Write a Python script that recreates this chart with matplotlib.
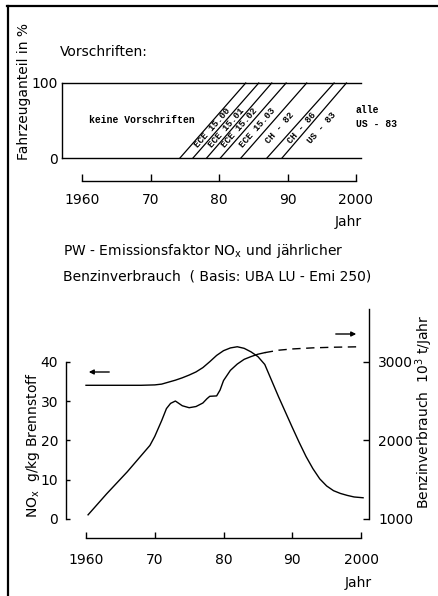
import math
import matplotlib
matplotlib.use("Agg")
import matplotlib.pyplot as plt
from matplotlib.lines import Line2D
from matplotlib.patches import FancyArrowPatch

plt.rcParams['font.family'] = 'DejaVu Sans'
plt.rcParams['mathtext.fontset'] = 'dejavusans'

W, H = 438, 596

# x axis ticks (both panels)
tick_years = [1960, 1970, 1980, 1990, 2000]
tick_labels = ["1960", "70", "80", "90", "2000"]

# top panel: regulations, year where share starts at 0 % and reaches 100 %
reg_names = ["ECE 15.00", "ECE 15.01", "ECE 15.02", "ECE 15.03", "CH - 82", "CH - 86", "US - 83"]
reg_start = [1974.3, 1976.2, 1978.2, 1980.2, 1983.2, 1987.0, 1989.2]
reg_end = [1983.9, 1985.8, 1987.7, 1989.8, 1992.8, 1996.8, 1998.6]

# bottom panel: NOx emission factor (g/kg Brennstoff)
nox_years = [1960, 1965, 1968, 1970, 1971, 1972, 1973, 1974, 1975, 1976, 1977, 1978, 1979, 1980,
             1981, 1982, 1983, 1984, 1985, 1986, 1987, 1988, 1989, 1990, 1991, 1992, 1993, 1994,
             1995, 1996, 1997, 1998, 1999, 2000.3]
nox_vals = [34.0, 34.0, 34.0, 34.1, 34.3, 34.8, 35.3, 35.9, 36.6, 37.4, 38.5, 40.0, 41.6, 42.8,
            43.5, 43.8, 43.4, 42.5, 41.3, 39.3, 35.2, 31.1, 27.2, 23.3, 19.5, 15.9, 12.8, 10.2,
            8.4, 7.2, 6.5, 6.0, 5.6, 5.4]

# bottom panel: Benzinverbrauch (10^3 t/Jahr), dashed from 1986 on
fuel_years = [1960.3, 1963, 1966, 1969.3, 1970, 1971, 1971.7, 1972.3, 1973, 1973.5, 1974, 1975,
              1976, 1977, 1977.6, 1978, 1979, 1979.5, 1980, 1981, 1982, 1983, 1984, 1985, 1986,
              1988, 1990, 1993, 1996, 2000]
fuel_vals = [1053, 1320, 1600, 1936, 2050, 2250, 2404, 2470, 2500, 2470, 2440, 2415,
             2430, 2475, 2530, 2560, 2565, 2640, 2760, 2890, 2970, 3030, 3065, 3095, 3115,
             3146, 3162, 3176, 3184, 3190]
fuel_forecast_from = 1986


def fx(x):
    return x / W


def fy(y):
    return 1 - y / H


def px2pt(p):
    return p * 72 / 100


fig = plt.figure(figsize=(W / 100, H / 100), dpi=100)

# frame (top + left edge of the scanned page)
fig.add_artist(Line2D([fx(7.5), fx(7.5)], [0, fy(6)], transform=fig.transFigure, color='k', lw=1.6))
fig.add_artist(Line2D([fx(7), 1], [fy(6), fy(6)], transform=fig.transFigure, color='k', lw=1.6))

# ---------- top panel ----------
ax1 = fig.add_axes([fx(62), fy(158), fx(361) - fx(62), fy(83) - fy(158)])
ax1.set_xlim(1957.08, 2000.73)
ax1.set_ylim(0, 100)
ax1.patch.set_visible(False)
for s in ['top', 'right']:
    ax1.spines[s].set_visible(False)
ax1.spines['left'].set_linewidth(1.0)
ax1.spines['bottom'].set_position(('outward', px2pt(23)))
ax1.spines['bottom'].set_bounds(1960, 2000)
ax1.spines['bottom'].set_linewidth(1.0)
ax1.axhline(0, color='k', lw=1.0, clip_on=False)
ax1.axhline(100, color='k', lw=1.0, clip_on=False)
ax1.set_yticks([0, 100])
ax1.set_yticklabels(["0", "100"])
ax1.tick_params(axis='y', length=0, pad=3, labelsize=10)
ax1.set_xticks(tick_years)
ax1.set_xticklabels(tick_labels)
ax1.tick_params(axis='x', direction='in', length=5, width=1.0, pad=px2pt(12), labelsize=10)

for s0, s1 in zip(reg_start, reg_end):
    ax1.plot([s0, s1], [0, 100], color='k', lw=0.9, clip_on=False)

# screen angle of the diagonals
p0 = ax1.transData.transform((reg_start[0], 0))
p1 = ax1.transData.transform((reg_end[0], 100))
ang = math.degrees(math.atan2(p1[1] - p0[1], p1[0] - p0[0]))

lab_h = 0.40
for i, name in enumerate(reg_names):
    if i + 1 < len(reg_start):
        base = (reg_start[i] + reg_start[i + 1]) / 2
    else:
        base = reg_start[i] + 2.0
    span = reg_end[i] - reg_start[i]
    ax1.text(base + lab_h * span, lab_h * 100, name, rotation=ang, rotation_mode='anchor',
             ha='center', va='center', family='Liberation Mono', weight='bold', fontsize=6.6)

mono = dict(family='Liberation Mono', weight='bold', fontsize=7)
fig.text(fx(142), fy(120), "keine Vorschriften", ha='center', va='center', **mono)
fig.text(fx(356), fy(110), "alle", ha='left', va='center', **mono)
fig.text(fx(356), fy(124), "US - 83", ha='left', va='center', **mono)

fig.text(fx(60), fy(52), "Vorschriften:", ha='left', va='center', fontsize=10)
fig.text(fx(24), fy(92), "Fahrzeuganteil in %", rotation=90, ha='center', va='center', fontsize=10)
fig.text(fx(362), fy(222), "Jahr", ha='right', va='center', fontsize=10)

# ---------- title ----------
fig.text(fx(63), fy(251), r"PW - Emissionsfaktor NO$_\mathrm{x}$ und jährlicher",
         ha='left', va='center', fontsize=10)
fig.text(fx(63), fy(276), "Benzinverbrauch  ( Basis: UBA LU - Emi 250)",
         ha='left', va='center', fontsize=10)

# ---------- bottom panel ----------
ax2 = fig.add_axes([fx(66), fy(519), fx(369) - fx(66), fy(309) - fy(519)])
ax2.set_xlim(1957.09, 2001.16)
ax2.set_ylim(0, 53.4)
ax2.patch.set_visible(False)
for s in ['top', 'right']:
    ax2.spines[s].set_visible(False)
ax2.spines['left'].set_bounds(0, 40)
ax2.spines['left'].set_linewidth(1.0)
ax2.spines['bottom'].set_position(('outward', px2pt(19)))
ax2.spines['bottom'].set_bounds(1960, 2000)
ax2.spines['bottom'].set_linewidth(1.0)
ax2.set_xticks(tick_years)
ax2.set_xticklabels(tick_labels)
ax2.tick_params(axis='x', direction='in', length=4, width=1.0, pad=px2pt(15), labelsize=10)
ax2.set_yticks([0, 10, 20, 30, 40])
ax2.tick_params(axis='y', direction='in', length=3, width=1.0, pad=px2pt(8), labelsize=10)

ax3 = ax2.twinx()
ax3.set_ylim(1000, 3670)
for s in ['top', 'left', 'bottom']:
    ax3.spines[s].set_visible(False)
ax3.spines['right'].set_linewidth(1.0)
ax3.set_yticks([1000, 2000, 3000])
ax3.tick_params(axis='y', direction='in', length=4, width=1.0, pad=px2pt(9), labelsize=10)

ax2.plot(nox_years, nox_vals, color='k', lw=1.0, clip_on=False)

solid = [(y, v) for y, v in zip(fuel_years, fuel_vals) if y <= fuel_forecast_from]
dashed = [(y, v) for y, v in zip(fuel_years, fuel_vals) if y >= fuel_forecast_from]
ax3.plot([p[0] for p in solid], [p[1] for p in solid], color='k', lw=1.0, clip_on=False)
ax3.plot([p[0] for p in dashed], [p[1] for p in dashed], color='k', lw=1.0,
         dashes=(6, 4), clip_on=False)

# arrows pointing to the matching axis
fig.add_artist(FancyArrowPatch((fx(112), fy(372)), (fx(86), fy(372)), transform=fig.transFigure,
                               arrowstyle='-|>', mutation_scale=7, lw=1.0, color='k'))
fig.add_artist(FancyArrowPatch((fx(333), fy(334)), (fx(359), fy(334)), transform=fig.transFigure,
                               arrowstyle='-|>', mutation_scale=7, lw=1.0, color='k'))

fig.text(fx(33), fy(445), r"NO$_\mathrm{x}$  g/kg Brennstoff", rotation=90,
         ha='center', va='center', fontsize=10)
fig.text(fx(424), fy(412), r"Benzinverbrauch  10$^3$ t/Jahr", rotation=90,
         ha='center', va='center', fontsize=10)
fig.text(fx(372), fy(583), "Jahr", ha='right', va='center', fontsize=10)

fig.savefig("out.png", dpi=100)
